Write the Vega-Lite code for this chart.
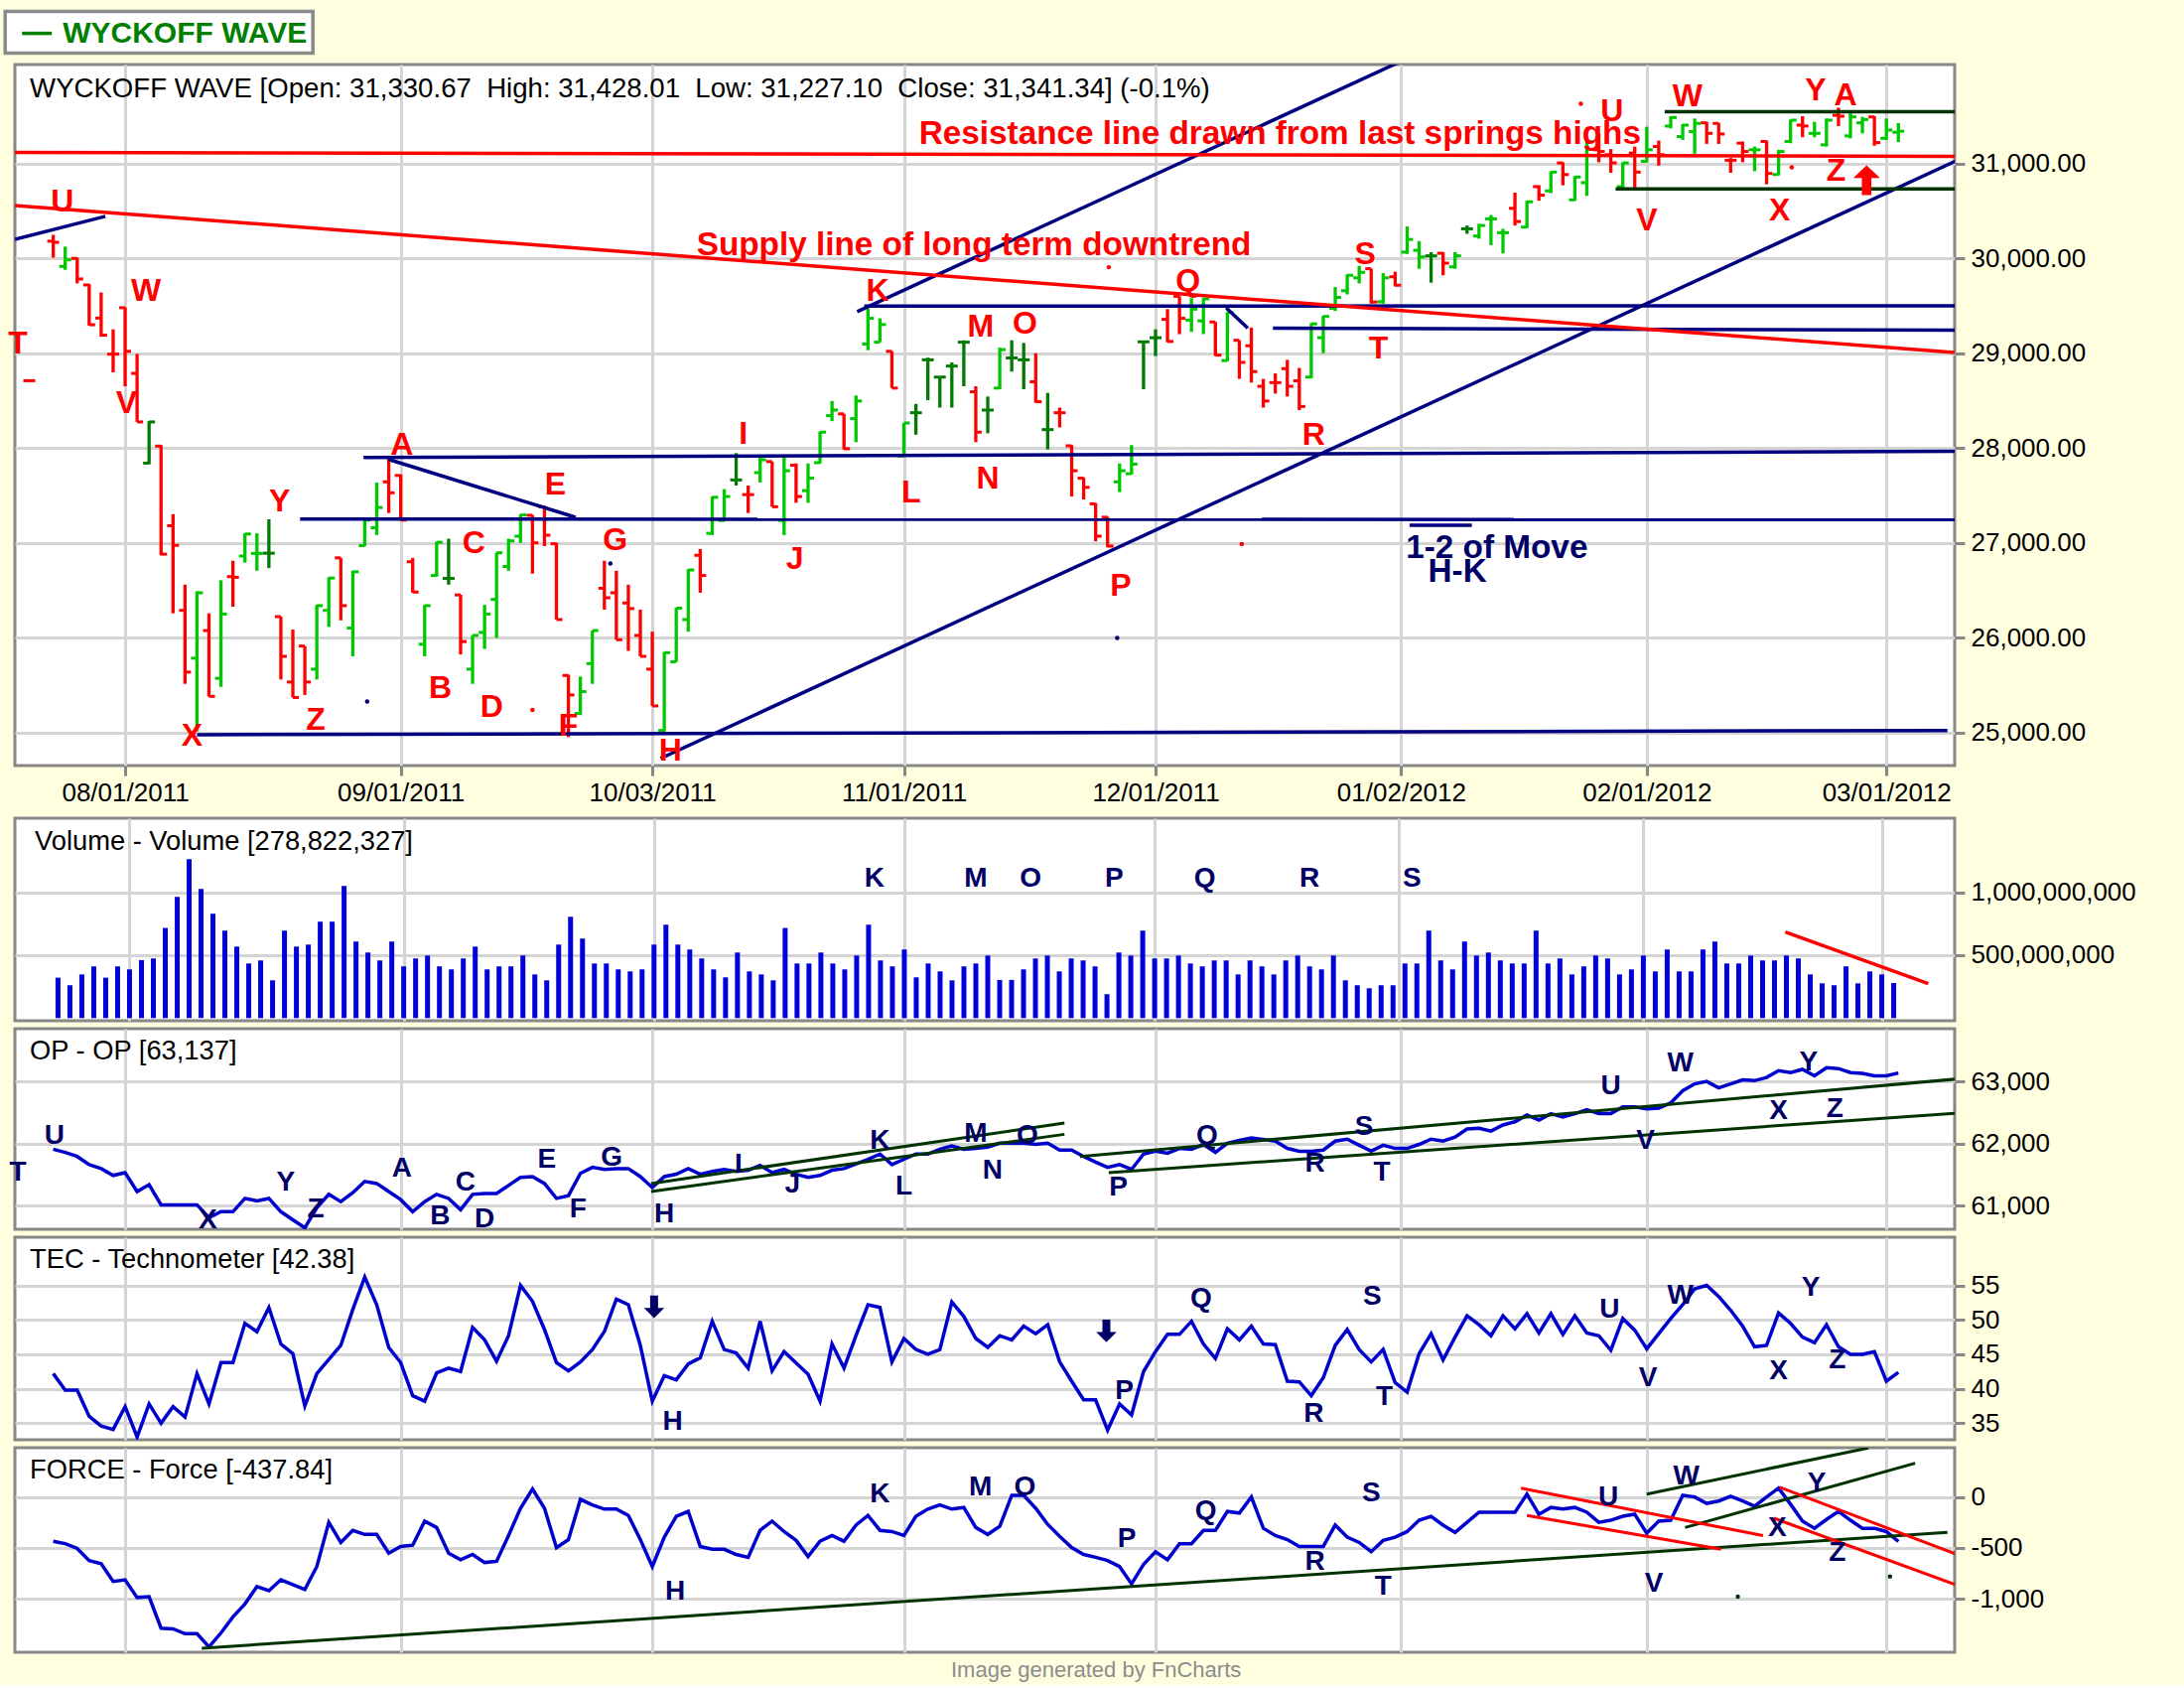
{
"$schema": "https://vega.github.io/schema/vega-lite/v6.json",
"background": "#ffffe0",
"padding": {"left": 3, "top": 9, "right": 50, "bottom": 4},
"config": {
  "font": "Liberation Sans",
  "view": {"stroke": "#878787", "strokeWidth": 3, "fill": "#ffffff"},
  "axis": {"domain": false, "gridColor": "#d4d4d4", "gridWidth": 3, "tickColor": "#878787", "tickWidth": 3, "tickSize": 10, "labelFontSize": 26, "labelColor": "#000000", "labelFont": "Liberation Sans", "labelFlush": false, "labelOverlap": false}
},
"title": {"text": "Image generated by FnCharts", "orient": "bottom", "anchor": "middle", "fontSize": 22, "fontWeight": "normal", "color": "#8c8c8c", "offset": 6, "dx": 26},
"datasets": {
"ohlc": [
{"i":-8,"o":28710,"h":28725,"l":28695,"c":28710,"d":"d"},
{"i":-6,"o":30182,"h":30248,"l":30008,"c":30170,"d":"d","v":321000000},
{"i":-5,"o":29915,"h":30124,"l":29880,"c":29985,"d":"u","v":261000000},
{"i":-4,"o":30000,"h":30008,"l":29736,"c":29783,"d":"d","v":347000000},
{"i":-3,"o":29720,"h":29729,"l":29291,"c":29300,"d":"d","v":411000000},
{"i":-2,"o":29370,"h":29640,"l":29174,"c":29190,"d":"d","v":321000000},
{"i":-1,"o":28990,"h":29252,"l":28798,"c":28990,"d":"d","v":411000000},
{"i":0,"o":29480,"h":29484,"l":28651,"c":29020,"d":"d","v":387000000},
{"i":1,"o":28787,"h":28992,"l":28275,"c":28275,"d":"d","v":461000000},
{"i":2,"o":27840,"h":28283,"l":27829,"c":28275,"d":"n","v":474000000},
{"i":3,"o":28020,"h":28031,"l":26868,"c":26880,"d":"d","v":716000000},
{"i":4,"o":27180,"h":27302,"l":26256,"c":26973,"d":"d","v":963000000},
{"i":5,"o":26287,"h":26558,"l":25512,"c":25636,"d":"d","v":1263000000},
{"i":6,"o":25783,"h":26488,"l":25008,"c":26473,"d":"u","v":1026000000},
{"i":7,"o":26074,"h":26256,"l":25376,"c":25380,"d":"d","v":829000000},
{"i":8,"o":25570,"h":26605,"l":25480,"c":26248,"d":"u","v":695000000},
{"i":9,"o":26643,"h":26810,"l":26326,"c":26636,"d":"d","v":568000000},
{"i":10,"o":26860,"h":27100,"l":26790,"c":27093,"d":"u","v":434000000},
{"i":11,"o":26888,"h":27100,"l":26705,"c":26888,"d":"u","v":458000000},
{"i":12,"o":26890,"h":27248,"l":26733,"c":26890,"d":"n","v":300000000},
{"i":13,"o":26221,"h":26221,"l":25558,"c":25802,"d":"d","v":695000000},
{"i":14,"o":25531,"h":26085,"l":25368,"c":25368,"d":"d","v":568000000},
{"i":15,"o":25911,"h":25911,"l":25395,"c":25531,"d":"d","v":584000000},
{"i":16,"o":25667,"h":26345,"l":25558,"c":26337,"d":"u","v":766000000},
{"i":17,"o":26287,"h":26636,"l":26112,"c":26628,"d":"u","v":766000000},
{"i":18,"o":26841,"h":26841,"l":26182,"c":26337,"d":"d","v":1050000000},
{"i":19,"o":26101,"h":26705,"l":25802,"c":26694,"d":"u","v":608000000},
{"i":20,"o":26970,"h":27248,"l":26965,"c":27240,"d":"u","v":521000000},
{"i":21,"o":27159,"h":27636,"l":27081,"c":27372,"d":"u","v":458000000},
{"i":22,"o":27643,"h":27884,"l":27314,"c":27527,"d":"d","v":608000000},
{"i":23,"o":27710,"h":27721,"l":27236,"c":27240,"d":"d","v":411000000},
{"i":24,"o":26800,"h":26841,"l":26473,"c":26480,"d":"d","v":474000000},
{"i":25,"o":25930,"h":26345,"l":25802,"c":26337,"d":"u","v":497000000},
{"i":26,"o":26655,"h":27012,"l":26643,"c":27005,"d":"u","v":411000000},
{"i":27,"o":26624,"h":27043,"l":26558,"c":26624,"d":"n","v":387000000},
{"i":28,"o":26450,"h":26453,"l":25822,"c":25958,"d":"d","v":474000000},
{"i":29,"o":25667,"h":26027,"l":25512,"c":26023,"d":"u","v":568000000},
{"i":30,"o":26054,"h":26345,"l":25880,"c":26248,"d":"u","v":387000000},
{"i":31,"o":26403,"h":26895,"l":25996,"c":26895,"d":"u","v":411000000},
{"i":32,"o":26750,"h":27043,"l":26705,"c":27020,"d":"u","v":411000000},
{"i":33,"o":27070,"h":27302,"l":27000,"c":27294,"d":"u","v":497000000},
{"i":34,"o":27290,"h":27294,"l":26674,"c":27000,"d":"d","v":347000000},
{"i":35,"o":27380,"h":27390,"l":26965,"c":27080,"d":"d","v":300000000},
{"i":36,"o":26990,"h":27000,"l":26190,"c":26190,"d":"d","v":584000000},
{"i":37,"o":25600,"h":25609,"l":24950,"c":25395,"d":"d","v":805000000},
{"i":38,"o":25200,"h":25589,"l":25182,"c":25430,"d":"u","v":632000000},
{"i":39,"o":25725,"h":26074,"l":25512,"c":26074,"d":"u","v":434000000},
{"i":40,"o":26520,"h":26810,"l":26295,"c":26420,"d":"d","v":434000000},
{"i":41,"o":26473,"h":26705,"l":25977,"c":25977,"d":"d","v":387000000},
{"i":42,"o":26365,"h":26558,"l":25860,"c":26306,"d":"d","v":371000000},
{"i":43,"o":26023,"h":26295,"l":25802,"c":25802,"d":"d","v":387000000},
{"i":44,"o":25667,"h":26062,"l":25279,"c":25279,"d":"d","v":584000000},
{"i":45,"o":25020,"h":25849,"l":25008,"c":25841,"d":"u","v":742000000},
{"i":46,"o":25744,"h":26318,"l":25744,"c":26310,"d":"u","v":584000000},
{"i":47,"o":26190,"h":26721,"l":26062,"c":26713,"d":"u","v":545000000},
{"i":48,"o":26868,"h":26934,"l":26473,"c":26655,"d":"d","v":474000000},
{"i":49,"o":27100,"h":27488,"l":27081,"c":27480,"d":"u","v":387000000},
{"i":50,"o":27236,"h":27566,"l":27225,"c":27488,"d":"u","v":324000000},
{"i":51,"o":27663,"h":27946,"l":27604,"c":27663,"d":"n","v":521000000},
{"i":52,"o":27508,"h":27604,"l":27314,"c":27508,"d":"d","v":371000000},
{"i":53,"o":27740,"h":27907,"l":27636,"c":27876,"d":"u","v":347000000},
{"i":54,"o":27857,"h":27857,"l":27380,"c":27380,"d":"d","v":300000000},
{"i":55,"o":27236,"h":27907,"l":27081,"c":27760,"d":"u","v":716000000},
{"i":56,"o":27818,"h":27837,"l":27422,"c":27488,"d":"d","v":434000000},
{"i":57,"o":27550,"h":27837,"l":27422,"c":27682,"d":"u","v":434000000},
{"i":58,"o":27845,"h":28174,"l":27837,"c":28167,"d":"u","v":521000000},
{"i":59,"o":28341,"h":28496,"l":28283,"c":28400,"d":"u","v":434000000},
{"i":60,"o":28360,"h":28360,"l":27984,"c":27992,"d":"d","v":387000000},
{"i":61,"o":28310,"h":28554,"l":28062,"c":28496,"d":"u","v":497000000},
{"i":62,"o":29097,"h":29473,"l":29031,"c":29368,"d":"u","v":742000000},
{"i":63,"o":29116,"h":29368,"l":29116,"c":29302,"d":"u","v":458000000},
{"i":64,"o":29020,"h":29020,"l":28632,"c":28632,"d":"d","v":411000000},
{"i":65,"o":27915,"h":28264,"l":27907,"c":28264,"d":"u","v":545000000},
{"i":66,"o":28372,"h":28465,"l":28140,"c":28372,"d":"n","v":324000000},
{"i":67,"o":28930,"h":28953,"l":28504,"c":28930,"d":"n","v":434000000},
{"i":68,"o":28748,"h":28748,"l":28426,"c":28748,"d":"n","v":371000000},
{"i":69,"o":28864,"h":28903,"l":28426,"c":28864,"d":"n","v":300000000},
{"i":70,"o":29116,"h":29136,"l":28651,"c":29116,"d":"n","v":411000000},
{"i":71,"o":28593,"h":28651,"l":28062,"c":28167,"d":"d","v":434000000},
{"i":72,"o":28400,"h":28543,"l":28155,"c":28400,"d":"n","v":497000000},
{"i":73,"o":28632,"h":29058,"l":28620,"c":29038,"d":"u","v":303000000},
{"i":74,"o":28950,"h":29136,"l":28806,"c":28950,"d":"n","v":303000000},
{"i":75,"o":28930,"h":29108,"l":28620,"c":28930,"d":"n","v":387000000},
{"i":76,"o":28698,"h":29000,"l":28477,"c":28488,"d":"d","v":474000000},
{"i":77,"o":28194,"h":28581,"l":27984,"c":28194,"d":"n","v":497000000},
{"i":78,"o":28372,"h":28426,"l":28217,"c":28372,"d":"d","v":371000000},
{"i":79,"o":28023,"h":28031,"l":27488,"c":27760,"d":"d","v":474000000},
{"i":80,"o":27682,"h":27690,"l":27457,"c":27585,"d":"d","v":458000000},
{"i":81,"o":27411,"h":27419,"l":27015,"c":27070,"d":"d","v":411000000},
{"i":82,"o":27270,"h":27275,"l":26953,"c":26965,"d":"d","v":190000000},
{"i":83,"o":27643,"h":27837,"l":27535,"c":27760,"d":"u","v":521000000},
{"i":84,"o":27729,"h":28031,"l":27721,"c":27830,"d":"u","v":497000000},
{"i":85,"o":29120,"h":29128,"l":28620,"c":29120,"d":"n","v":695000000},
{"i":86,"o":29163,"h":29252,"l":28969,"c":29163,"d":"n","v":474000000},
{"i":87,"o":29357,"h":29465,"l":29116,"c":29124,"d":"d","v":474000000},
{"i":88,"o":29600,"h":29601,"l":29201,"c":29368,"d":"d","v":497000000},
{"i":89,"o":29349,"h":29581,"l":29225,"c":29465,"d":"u","v":434000000},
{"i":90,"o":29341,"h":29581,"l":29201,"c":29573,"d":"u","v":411000000},
{"i":91,"o":29329,"h":29329,"l":28969,"c":28980,"d":"d","v":458000000},
{"i":92,"o":28922,"h":29434,"l":28915,"c":29430,"d":"u","v":458000000},
{"i":93,"o":29136,"h":29136,"l":28729,"c":28903,"d":"d","v":347000000},
{"i":94,"o":29078,"h":29271,"l":28690,"c":28806,"d":"d","v":458000000},
{"i":95,"o":28651,"h":28729,"l":28426,"c":28496,"d":"d","v":411000000},
{"i":96,"o":28690,"h":28787,"l":28574,"c":28690,"d":"d","v":347000000},
{"i":97,"o":28837,"h":28930,"l":28543,"c":28651,"d":"d","v":458000000},
{"i":98,"o":28709,"h":28845,"l":28400,"c":28438,"d":"d","v":497000000},
{"i":99,"o":28748,"h":29318,"l":28736,"c":29310,"d":"u","v":411000000},
{"i":100,"o":29163,"h":29395,"l":29000,"c":29388,"d":"u","v":387000000},
{"i":101,"o":29473,"h":29698,"l":29446,"c":29589,"d":"u","v":497000000},
{"i":102,"o":29659,"h":29833,"l":29620,"c":29822,"d":"u","v":300000000},
{"i":103,"o":29795,"h":29922,"l":29736,"c":29853,"d":"u","v":261000000},
{"i":104,"o":29891,"h":29891,"l":29523,"c":29540,"d":"d","v":237000000},
{"i":105,"o":29543,"h":29845,"l":29523,"c":29795,"d":"u","v":261000000},
{"i":106,"o":29806,"h":29860,"l":29705,"c":29717,"d":"d","v":261000000},
{"i":107,"o":30066,"h":30337,"l":30047,"c":30200,"d":"u","v":434000000},
{"i":108,"o":30085,"h":30182,"l":29891,"c":30016,"d":"u","v":434000000},
{"i":109,"o":30027,"h":30066,"l":29744,"c":30027,"d":"n","v":695000000},
{"i":110,"o":30054,"h":30066,"l":29822,"c":29950,"d":"d","v":458000000},
{"i":111,"o":29911,"h":30066,"l":29891,"c":30027,"d":"u","v":387000000},
{"i":112,"o":30312,"h":30347,"l":30260,"c":30312,"d":"n","v":608000000},
{"i":113,"o":30236,"h":30365,"l":30208,"c":30347,"d":"u","v":497000000},
{"i":114,"o":30417,"h":30458,"l":30139,"c":30417,"d":"u","v":521000000},
{"i":115,"o":30271,"h":30312,"l":30052,"c":30271,"d":"u","v":458000000},
{"i":116,"o":30528,"h":30694,"l":30347,"c":30389,"d":"d","v":434000000},
{"i":117,"o":30330,"h":30608,"l":30319,"c":30597,"d":"u","v":434000000},
{"i":118,"o":30757,"h":30771,"l":30608,"c":30667,"d":"d","v":695000000},
{"i":119,"o":30712,"h":30920,"l":30688,"c":30910,"d":"u","v":434000000},
{"i":120,"o":31007,"h":31014,"l":30771,"c":30885,"d":"d","v":474000000},
{"i":121,"o":30618,"h":30868,"l":30608,"c":30858,"d":"u","v":347000000},
{"i":122,"o":30799,"h":31243,"l":30660,"c":31233,"d":"u","v":411000000},
{"i":123,"o":31146,"h":31319,"l":31014,"c":31128,"d":"d","v":497000000},
{"i":124,"o":31094,"h":31153,"l":30903,"c":31007,"d":"d","v":474000000},
{"i":125,"o":30757,"h":31014,"l":30736,"c":31007,"d":"u","v":347000000},
{"i":126,"o":31111,"h":31180,"l":30729,"c":30910,"d":"d","v":387000000},
{"i":127,"o":31024,"h":31389,"l":31014,"c":31146,"d":"u","v":497000000},
{"i":128,"o":31180,"h":31243,"l":30979,"c":31094,"d":"d","v":371000000},
{"i":129,"o":31396,"h":31500,"l":31372,"c":31486,"d":"u","v":545000000},
{"i":130,"o":31285,"h":31417,"l":31250,"c":31406,"d":"u","v":371000000},
{"i":131,"o":31337,"h":31476,"l":31104,"c":31424,"d":"u","v":371000000},
{"i":132,"o":31430,"h":31441,"l":31208,"c":31319,"d":"d","v":545000000},
{"i":133,"o":31424,"h":31430,"l":31208,"c":31312,"d":"d","v":608000000},
{"i":134,"o":31035,"h":31059,"l":30903,"c":31035,"d":"d","v":434000000},
{"i":135,"o":31215,"h":31233,"l":31014,"c":31128,"d":"d","v":434000000},
{"i":136,"o":31146,"h":31180,"l":30920,"c":31146,"d":"u","v":497000000},
{"i":137,"o":31233,"h":31243,"l":30781,"c":30896,"d":"d","v":458000000},
{"i":138,"o":30885,"h":31146,"l":30875,"c":31128,"d":"u","v":458000000},
{"i":139,"o":31233,"h":31465,"l":31215,"c":31458,"d":"u","v":497000000},
{"i":140,"o":31406,"h":31500,"l":31278,"c":31396,"d":"d","v":474000000},
{"i":141,"o":31319,"h":31441,"l":31278,"c":31319,"d":"u","v":347000000},
{"i":142,"o":31198,"h":31476,"l":31180,"c":31458,"d":"u","v":276000000},
{"i":143,"o":31510,"h":31590,"l":31396,"c":31500,"d":"d","v":261000000},
{"i":144,"o":31292,"h":31556,"l":31267,"c":31493,"d":"u","v":411000000},
{"i":145,"o":31430,"h":31493,"l":31319,"c":31465,"d":"u","v":276000000},
{"i":146,"o":31493,"h":31500,"l":31188,"c":31222,"d":"d","v":371000000},
{"i":147,"o":31267,"h":31476,"l":31250,"c":31354,"d":"u","v":347000000},
{"i":148,"o":31330.67,"h":31428.01,"l":31227.10,"c":31341.34,"d":"u","v":278822327}
],
"pDotsNavy": [
{"i":20.2,"v":25326},{"i":40.5,"v":26781},{"i":82.8,"v":25995}
],
"pDotsRed": [
{"i":34.0,"v":25236},{"i":82.1,"v":29907},{"i":93.2,"v":26987},{"i":121.5,"v":31631},{"i":139.1,"v":30962}
],
"pBlue": [
{"s":"u","i":-9.2,"v":30200},{"s":"u","i":-1.65,"v":30444},
{"s":"cu","i":61.1,"v":29438},{"s":"cu","i":106.5,"v":32080},
{"s":"cl","i":44.7,"v":24726},{"s":"cl","i":153.5,"v":31069},
{"s":"hx","i":6.0,"v":24975},{"s":"hx","i":152.1,"v":25020},
{"s":"hy","i":14.6,"v":27250},{"s":"hy","i":152.7,"v":27244},
{"s":"ha","i":19.9,"v":27900},{"s":"ha","i":152.7,"v":27966},
{"s":"ae","i":21.95,"v":27881},{"s":"ae","i":37.6,"v":27269},
{"s":"hk","i":61.7,"v":29497},{"s":"hk","i":152.7,"v":29500},
{"s":"qd","i":91.9,"v":29478},{"s":"qd","i":93.7,"v":29263},
{"s":"ht","i":95.8,"v":29263},{"s":"ht","i":152.7,"v":29243},
{"s":"ov","i":107.2,"v":27185},{"s":"ov","i":112.4,"v":27185}
],
"pRed": [
{"s":"res","i":-9.2,"v":31119},{"s":"res","i":152.7,"v":31077},
{"s":"sup","i":-9.2,"v":30558},{"s":"sup","i":152.7,"v":29007}
],
"pGreen": [
{"s":"gu","i":128.5,"v":31547},{"s":"gu","i":152.7,"v":31547},
{"s":"gl","i":124.4,"v":30733},{"s":"gl","i":152.7,"v":30733}
],
"pLetters": [
{"t":"T","i":-8.95,"v":29103},{"t":"U","i":-5.23,"v":30603},{"t":"W","i":1.74,"v":29662},{"t":"V","i":0.12,"v":28471},
{"t":"X","i":5.58,"v":24963},{"t":"Y","i":12.9,"v":27441},{"t":"Z","i":15.9,"v":25132},{"t":"A","i":23.1,"v":28029},
{"t":"B","i":26.3,"v":25471},{"t":"C","i":29.1,"v":27000},{"t":"D","i":30.6,"v":25265},{"t":"E","i":35.9,"v":27618},
{"t":"F","i":37.0,"v":25074},{"t":"G","i":40.9,"v":27029},{"t":"H","i":45.5,"v":24809},{"t":"I","i":51.6,"v":28147},
{"t":"J","i":55.9,"v":26824},{"t":"K","i":62.8,"v":29662},{"t":"L","i":65.6,"v":27529},{"t":"M","i":71.4,"v":29279},
{"t":"N","i":72.0,"v":27676},{"t":"O","i":75.1,"v":29309},{"t":"P","i":83.1,"v":26544},{"t":"Q","i":88.7,"v":29760},
{"t":"R","i":99.2,"v":28140},{"t":"S","i":103.5,"v":30040},{"t":"T","i":104.6,"v":29051},{"t":"U","i":124.1,"v":31555},
{"t":"V","i":127.0,"v":30403},{"t":"W","i":130.4,"v":31712},{"t":"X","i":138.1,"v":30508},{"t":"Y","i":141.1,"v":31770},
{"t":"Z","i":142.8,"v":30920},{"t":"A","i":143.6,"v":31723}
],
"pNotesRed": [
{"t":"Resistance line drawn from last springs highs","i":66.26,"v":31317},
{"t":"Supply line of long term downtrend","i":47.7,"v":30140}
],
"pNotesBlue": [
{"t":"1-2 of Move","i":106.9,"v":26948}
],
"pNotesBlueC": [
{"t":"H-K","i":111.2,"v":26696}
],
"vLetters": [
{"t":"K","i":62.5,"v":1110000000},{"t":"M","i":71.0,"v":1110000000},{"t":"O","i":75.6,"v":1110000000},
{"t":"P","i":82.6,"v":1110000000},{"t":"Q","i":90.2,"v":1110000000},{"t":"R","i":99.0,"v":1110000000},{"t":"S","i":107.6,"v":1110000000}
],
"vRed": [{"s":"a","i":138.9,"v":684000000},{"s":"a","i":150.9,"v":274000000}],
"op": [
{"i":-6,"v":61909},{"i":-5,"v":61857},{"i":-4,"v":61792},{"i":-3,"v":61662},{"i":-2,"v":61597},{"i":-1,"v":61487},
{"i":0,"v":61532},{"i":1,"v":61227},{"i":2,"v":61338},{"i":3,"v":61013},{"i":4,"v":61013},{"i":6,"v":61013},
{"i":7,"v":60805},{"i":8,"v":60903},{"i":9,"v":60903},{"i":10,"v":61117},{"i":11,"v":61078},{"i":12,"v":61117},
{"i":13,"v":60903},{"i":14,"v":60773},{"i":15,"v":60643},{"i":16,"v":60968},{"i":17,"v":61182},{"i":18,"v":61065},
{"i":19,"v":61208},{"i":20,"v":61390},{"i":21,"v":61357},{"i":22,"v":61227},{"i":23,"v":61097},{"i":24,"v":60903},
{"i":25,"v":61065},{"i":26,"v":61182},{"i":27,"v":61117},{"i":28,"v":60935},{"i":29,"v":61182},{"i":30,"v":61195},
{"i":31,"v":61195},{"i":32,"v":61325},{"i":33,"v":61455},{"i":34,"v":61468},{"i":35,"v":61357},{"i":36,"v":61117},
{"i":37,"v":61162},{"i":38,"v":61519},{"i":39,"v":61617},{"i":40,"v":61584},{"i":41,"v":61597},{"i":42,"v":61597},
{"i":43,"v":61468},{"i":44,"v":61292},{"i":45,"v":61468},{"i":46,"v":61506},{"i":47,"v":61597},{"i":48,"v":61506},
{"i":49,"v":61552},{"i":50,"v":61584},{"i":51,"v":61552},{"i":52,"v":61571},{"i":53,"v":61649},{"i":54,"v":61532},
{"i":55,"v":61584},{"i":56,"v":61506},{"i":57,"v":61455},{"i":58,"v":61487},{"i":59,"v":61571},{"i":60,"v":61597},
{"i":62,"v":61747},{"i":63,"v":61831},{"i":64,"v":61662},{"i":65,"v":61747},{"i":66,"v":61831},{"i":67,"v":61831},
{"i":68,"v":61909},{"i":69,"v":61961},{"i":70,"v":61909},{"i":71,"v":61922},{"i":72,"v":61942},{"i":73,"v":62006},
{"i":74,"v":62006},{"i":75,"v":62006},{"i":76,"v":61987},{"i":77,"v":62006},{"i":78,"v":61896},{"i":79,"v":61896},
{"i":80,"v":61792},{"i":81,"v":61701},{"i":82,"v":61617},{"i":83,"v":61662},{"i":84,"v":61584},{"i":85,"v":61831},
{"i":86,"v":61877},{"i":87,"v":61844},{"i":88,"v":61922},{"i":89,"v":61909},{"i":90,"v":61987},{"i":91,"v":61857},
{"i":92,"v":62006},{"i":93,"v":62052},{"i":94,"v":62091},{"i":96,"v":62039},{"i":97,"v":61922},{"i":98,"v":61877},
{"i":99,"v":61877},{"i":100,"v":61896},{"i":101,"v":62039},{"i":102,"v":62071},{"i":103,"v":61974},{"i":104,"v":61877},
{"i":105,"v":61974},{"i":106,"v":61922},{"i":107,"v":61922},{"i":108,"v":61987},{"i":109,"v":62071},{"i":110,"v":62039},
{"i":111,"v":62104},{"i":112,"v":62234},{"i":113,"v":62247},{"i":114,"v":62201},{"i":115,"v":62299},{"i":116,"v":62351},
{"i":117,"v":62461},{"i":118,"v":62377},{"i":119,"v":62481},{"i":120,"v":62429},{"i":121,"v":62481},{"i":122,"v":62545},
{"i":123,"v":62481},{"i":124,"v":62481},{"i":125,"v":62591},{"i":126,"v":62591},{"i":127,"v":62558},{"i":128,"v":62571},
{"i":129,"v":62656},{"i":130,"v":62851},{"i":131,"v":62961},{"i":132,"v":63000},{"i":133,"v":62896},{"i":134,"v":62961},
{"i":135,"v":63026},{"i":136,"v":63013},{"i":137,"v":63065},{"i":138,"v":63175},{"i":139,"v":63143},{"i":140,"v":63195},
{"i":141,"v":63091},{"i":142,"v":63221},{"i":143,"v":63208},{"i":144,"v":63143},{"i":145,"v":63130},{"i":146,"v":63091},
{"i":147,"v":63091},{"i":148,"v":63137}
],
"opLines": [
{"s":"a","i":43.9,"v":61357},{"s":"a","i":78.4,"v":62331},
{"s":"b","i":43.9,"v":61227},{"s":"b","i":78.4,"v":62149},
{"s":"c","i":79.7,"v":61792},{"s":"c","i":153.2,"v":63045},
{"s":"d","i":82.1,"v":61532},{"s":"d","i":154,"v":62506}
],
"opLetters": [
{"t":"T","i":-8.95,"v":61532},{"t":"U","i":-5.9,"v":62117},{"t":"X","i":6.9,"v":60756},{"t":"Y","i":13.4,"v":61378},
{"t":"Z","i":15.9,"v":60933},{"t":"A","i":23.1,"v":61600},{"t":"B","i":26.3,"v":60822},{"t":"C","i":28.4,"v":61378},
{"t":"D","i":30.0,"v":60778},{"t":"E","i":35.2,"v":61733},{"t":"F","i":37.8,"v":60933},{"t":"G","i":40.6,"v":61778},
{"t":"H","i":45.0,"v":60857},{"t":"I","i":51.2,"v":61667},{"t":"J","i":55.7,"v":61333},{"t":"K","i":63.0,"v":62044},
{"t":"L","i":65.0,"v":61311},{"t":"M","i":71.0,"v":62156},{"t":"N","i":72.4,"v":61571},{"t":"O","i":75.3,"v":62117},
{"t":"P","i":82.9,"v":61292},{"t":"Q","i":90.3,"v":62117},{"t":"R","i":99.3,"v":61682},{"t":"S","i":103.4,"v":62266},
{"t":"T","i":104.9,"v":61532},{"t":"U","i":124.0,"v":62916},{"t":"V","i":126.9,"v":62039},{"t":"W","i":129.8,"v":63286},
{"t":"X","i":138.0,"v":62526},{"t":"Y","i":140.5,"v":63305},{"t":"Z","i":142.7,"v":62558}
],
"tec": [
{"i":-6,"v":42.2},{"i":-5,"v":39.8},{"i":-4,"v":39.8},{"i":-3,"v":36.0},{"i":-2,"v":34.6},{"i":-1,"v":34.1},
{"i":0,"v":37.4},{"i":1,"v":33.0},{"i":2,"v":37.8},{"i":3,"v":35.0},{"i":4,"v":37.4},{"i":5,"v":35.9},
{"i":6,"v":42.2},{"i":7,"v":37.8},{"i":8,"v":43.8},{"i":9,"v":43.8},{"i":10,"v":49.5},{"i":11,"v":48.3},
{"i":12,"v":51.8},{"i":13,"v":46.5},{"i":14,"v":45.1},{"i":15,"v":37.5},{"i":16,"v":42.2},{"i":18,"v":46.3},
{"i":19,"v":51.5},{"i":20,"v":56.2},{"i":21,"v":52.2},{"i":22,"v":46.0},{"i":23,"v":43.8},{"i":24,"v":39.0},
{"i":25,"v":38.2},{"i":26,"v":42.3},{"i":27,"v":43.0},{"i":28,"v":42.5},{"i":29,"v":48.9},{"i":30,"v":47.1},
{"i":31,"v":44.0},{"i":32,"v":47.7},{"i":33,"v":55.0},{"i":34,"v":52.7},{"i":35,"v":48.6},{"i":36,"v":43.8},
{"i":37,"v":42.6},{"i":38,"v":43.9},{"i":39,"v":45.7},{"i":40,"v":48.3},{"i":41,"v":53.0},{"i":42,"v":52.2},
{"i":43,"v":46.3},{"i":44,"v":38.2},{"i":45,"v":41.9},{"i":46,"v":41.3},{"i":47,"v":43.6},{"i":48,"v":44.5},
{"i":49,"v":49.8},{"i":50,"v":45.7},{"i":51,"v":45.2},{"i":52,"v":43.0},{"i":53,"v":49.8},{"i":54,"v":42.6},
{"i":55,"v":45.4},{"i":57,"v":42.1},{"i":58,"v":38.2},{"i":59,"v":46.5},{"i":60,"v":43.0},{"i":61,"v":47.7},
{"i":62,"v":52.2},{"i":63,"v":51.8},{"i":64,"v":43.9},{"i":65,"v":47.3},{"i":66,"v":45.7},{"i":67,"v":45.0},
{"i":68,"v":45.7},{"i":69,"v":52.6},{"i":70,"v":50.5},{"i":71,"v":47.3},{"i":72,"v":46.0},{"i":73,"v":47.7},
{"i":74,"v":47.1},{"i":75,"v":49.1},{"i":76,"v":48.0},{"i":77,"v":49.3},{"i":78,"v":43.9},{"i":79,"v":41.1},
{"i":80,"v":38.4},{"i":81,"v":38.4},{"i":82,"v":34.0},{"i":83,"v":37.8},{"i":84,"v":36.2},{"i":85,"v":42.5},
{"i":86,"v":45.4},{"i":87,"v":47.9},{"i":88,"v":47.9},{"i":89,"v":49.8},{"i":90,"v":46.5},{"i":91,"v":44.4},
{"i":92,"v":48.7},{"i":93,"v":47.1},{"i":94,"v":49.1},{"i":95,"v":46.5},{"i":96,"v":46.4},{"i":97,"v":41.1},
{"i":98,"v":41.0},{"i":99,"v":39.0},{"i":100,"v":41.6},{"i":101,"v":46.3},{"i":102,"v":48.6},{"i":103,"v":45.7},
{"i":104,"v":43.9},{"i":105,"v":45.7},{"i":106,"v":40.9},{"i":107,"v":39.5},{"i":108,"v":45.1},{"i":109,"v":48.0},
{"i":110,"v":44.2},{"i":111,"v":47.5},{"i":112,"v":50.6},{"i":113,"v":49.3},{"i":114,"v":47.7},{"i":115,"v":50.6},
{"i":116,"v":48.7},{"i":117,"v":50.9},{"i":118,"v":48.1},{"i":119,"v":50.9},{"i":120,"v":47.9},{"i":121,"v":50.6},
{"i":122,"v":48.1},{"i":123,"v":47.7},{"i":124,"v":45.6},{"i":125,"v":50.2},{"i":126,"v":48.5},{"i":127,"v":45.8},
{"i":128,"v":48.0},{"i":129,"v":50.2},{"i":130,"v":52.2},{"i":131,"v":54.5},{"i":132,"v":55.0},{"i":133,"v":53.4},
{"i":134,"v":51.4},{"i":135,"v":49.1},{"i":136,"v":46.1},{"i":137,"v":46.3},{"i":138,"v":51.0},{"i":139,"v":49.5},
{"i":140,"v":47.5},{"i":141,"v":46.7},{"i":142,"v":49.3},{"i":143,"v":46.1},{"i":144,"v":45.0},{"i":145,"v":45.0},
{"i":146,"v":45.4},{"i":147,"v":41.1},{"i":148,"v":42.38}
],
"tecLetters": [
{"t":"H","i":45.7,"v":35.2},{"t":"P","i":83.4,"v":39.6},{"t":"Q","i":89.8,"v":53.1},{"t":"R","i":99.2,"v":36.3},
{"t":"S","i":104.1,"v":53.4},{"t":"T","i":105.1,"v":38.8},{"t":"U","i":123.9,"v":51.5},{"t":"V","i":127.1,"v":41.5},
{"t":"W","i":129.8,"v":53.5},{"t":"X","i":138.0,"v":42.6},{"t":"Y","i":140.7,"v":54.7},{"t":"Z","i":142.9,"v":44.2}
],
"tecArrows": [{"i":44.15,"v":51.9},{"i":81.9,"v":48.4}],
"force": [
{"i":-6,"v":-435},{"i":-5,"v":-459},{"i":-4,"v":-506},{"i":-3,"v":-625},{"i":-2,"v":-656},{"i":-1,"v":-830},
{"i":0,"v":-814},{"i":1,"v":-988},{"i":2,"v":-980},{"i":3,"v":-1289},{"i":4,"v":-1296},{"i":5,"v":-1344},
{"i":6,"v":-1344},{"i":7,"v":-1474},{"i":8,"v":-1336},{"i":9,"v":-1178},{"i":10,"v":-1051},{"i":11,"v":-881},
{"i":12,"v":-921},{"i":13,"v":-814},{"i":14,"v":-862},{"i":15,"v":-909},{"i":16,"v":-684},{"i":17,"v":-249},
{"i":18,"v":-447},{"i":19,"v":-328},{"i":20,"v":-368},{"i":21,"v":-368},{"i":22,"v":-553},{"i":23,"v":-486},
{"i":24,"v":-474},{"i":25,"v":-237},{"i":26,"v":-300},{"i":27,"v":-553},{"i":28,"v":-617},{"i":29,"v":-565},
{"i":30,"v":-644},{"i":31,"v":-632},{"i":32,"v":-379},{"i":33,"v":-111},{"i":34,"v":79},{"i":35,"v":-111},
{"i":36,"v":-498},{"i":37,"v":-419},{"i":38,"v":-24},{"i":39,"v":-79},{"i":40,"v":-119},{"i":41,"v":-119},
{"i":42,"v":-182},{"i":43,"v":-419},{"i":44,"v":-684},{"i":45,"v":-395},{"i":46,"v":-190},{"i":47,"v":-142},
{"i":48,"v":-486},{"i":49,"v":-514},{"i":50,"v":-514},{"i":51,"v":-565},{"i":52,"v":-593},{"i":53,"v":-328},
{"i":54,"v":-237},{"i":55,"v":-340},{"i":56,"v":-427},{"i":57,"v":-585},{"i":58,"v":-435},{"i":59,"v":-379},
{"i":60,"v":-435},{"i":61,"v":-277},{"i":62,"v":-182},{"i":63,"v":-328},{"i":64,"v":-340},{"i":65,"v":-379},
{"i":66,"v":-190},{"i":67,"v":-119},{"i":68,"v":-79},{"i":69,"v":-119},{"i":70,"v":-103},{"i":71,"v":-300},
{"i":72,"v":-368},{"i":73,"v":-289},{"i":74,"v":16},{"i":75,"v":16},{"i":76,"v":-111},{"i":77,"v":-269},
{"i":78,"v":-387},{"i":79,"v":-498},{"i":80,"v":-565},{"i":81,"v":-593},{"i":82,"v":-625},{"i":83,"v":-684},
{"i":84,"v":-854},{"i":85,"v":-664},{"i":86,"v":-538},{"i":87,"v":-617},{"i":88,"v":-459},{"i":89,"v":-459},
{"i":90,"v":-328},{"i":91,"v":-328},{"i":92,"v":-142},{"i":93,"v":-158},{"i":94,"v":0},{"i":95,"v":-308},
{"i":96,"v":-379},{"i":97,"v":-419},{"i":98,"v":-486},{"i":99,"v":-486},{"i":100,"v":-486},{"i":101,"v":-277},
{"i":102,"v":-395},{"i":103,"v":-447},{"i":104,"v":-538},{"i":105,"v":-427},{"i":106,"v":-395},{"i":107,"v":-340},
{"i":108,"v":-229},{"i":109,"v":-190},{"i":110,"v":-277},{"i":111,"v":-348},{"i":112,"v":-249},{"i":113,"v":-150},
{"i":114,"v":-150},{"i":115,"v":-150},{"i":116,"v":-150},{"i":117,"v":28},{"i":118,"v":-170},{"i":119,"v":-103},
{"i":120,"v":-119},{"i":121,"v":-103},{"i":122,"v":-150},{"i":123,"v":-249},{"i":124,"v":-229},{"i":125,"v":-190},
{"i":126,"v":-170},{"i":127,"v":-356},{"i":128,"v":-237},{"i":129,"v":-229},{"i":130,"v":16},{"i":131,"v":0},
{"i":132,"v":-63},{"i":133,"v":-40},{"i":134,"v":8},{"i":135,"v":-40},{"i":136,"v":-91},{"i":137,"v":0},
{"i":138,"v":87},{"i":139,"v":-71},{"i":140,"v":-237},{"i":141,"v":-308},{"i":142,"v":-221},{"i":143,"v":-142},
{"i":144,"v":-229},{"i":145,"v":-308},{"i":146,"v":-308},{"i":147,"v":-340},{"i":148,"v":-437.84}
],
"fDots": [{"i":134.6,"v":-980},{"i":147.3,"v":-783}],
"fGreen": [
{"s":"a","i":6.4,"v":-1486},{"s":"a","i":152.1,"v":-348},
{"s":"b","i":127,"v":28},{"s":"b","i":145.5,"v":482},
{"s":"c","i":130.2,"v":-300},{"s":"c","i":149.4,"v":332}
],
"fRed": [
{"s":"a","i":116.5,"v":87},{"s":"a","i":136.7,"v":-379},
{"s":"b","i":117,"v":-182},{"s":"b","i":133.2,"v":-514},
{"s":"c","i":138.1,"v":95},{"s":"c","i":152.9,"v":-565},
{"s":"d","i":137.6,"v":-209},{"s":"d","i":153.2,"v":-881}
],
"fLetters": [
{"t":"K","i":63.0,"v":27},{"t":"M","i":71.4,"v":96},{"t":"O","i":75.1,"v":90},{"t":"H","i":45.9,"v":-932},
{"t":"P","i":83.6,"v":-415},{"t":"Q","i":90.2,"v":-145},{"t":"R","i":99.3,"v":-638},{"t":"S","i":104.0,"v":40},
{"t":"T","i":105.0,"v":-885},{"t":"U","i":123.8,"v":0},{"t":"V","i":127.6,"v":-855},{"t":"W","i":130.3,"v":205},
{"t":"X","i":137.9,"v":-305},{"t":"Y","i":141.2,"v":130},{"t":"Z","i":142.9,"v":-546}
]
},
"bounds": "flush",
"spacing": 53,
"vconcat": [
{
  "width": 1954, "height": 706,
  "encoding": {"x": {"field": "i", "type": "quantitative", "title": null, "scale": {"domain": [-9.2, 152.7], "nice": false, "zero": false},
    "axis": {"values": [0, 23, 44, 65, 86, 106.5, 127, 147], "grid": true, "ticks": true, "labelPadding": 4, "title": null,
      "labelExpr": "datum.value == 0 ? '08/01/2011' : datum.value == 23 ? '09/01/2011' : datum.value == 44 ? '10/03/2011' : datum.value == 65 ? '11/01/2011' : datum.value == 86 ? '12/01/2011' : datum.value == 106.5 ? '01/02/2012' : datum.value == 127 ? '02/01/2012' : '03/01/2012'"}}},
  "layer": [
    {"data": {"values": [{"i": -60, "v": 30000}]},
     "mark": {"type": "line", "strokeWidth": 3.5, "clip": true},
     "encoding": {"y": {"field": "v", "type": "quantitative", "title": null, "scale": {"domain": [24650, 32045], "nice": false, "zero": false},
        "axis": {"orient": "right", "values": [25000, 26000, 27000, 28000, 29000, 30000, 31000], "format": ",.2f", "grid": true, "title": null, "labelPadding": 6}},
       "stroke": {"datum": "WYCKOFF WAVE", "scale": {"range": ["#008000"]},
         "legend": {"orient": "none", "legendX": -9.8, "legendY": -53.4, "title": null, "symbolType": "stroke", "symbolStrokeWidth": 3.5, "symbolSize": 900, "symbolOffset": 10,
           "labelFontSize": 30, "labelFontWeight": "bold", "labelColor": "#008000", "labelFont": "Liberation Sans", "labelOffset": 9, "labelLimit": 500, "padding": 5,
           "fillColor": "#ffffff", "strokeColor": "#8a8a8a",
           "encode": {"legend": {"update": {"strokeWidth": {"value": 3.5}}}}}}}},
    {"data": {"name": "pDotsNavy"},
     "mark": {"type": "point", "filled": true, "size": 20, "opacity": 1, "color": "#000066"},
     "encoding": {"y": {"field": "v", "type": "quantitative", "title": null, "scale": {"domain": [24650, 32045], "nice": false, "zero": false}}}},
    {"data": {"name": "pDotsRed"},
     "mark": {"type": "point", "filled": true, "size": 20, "opacity": 1, "color": "#ff0000"},
     "encoding": {"y": {"field": "v", "type": "quantitative", "title": null, "scale": {"domain": [24650, 32045], "nice": false, "zero": false}}}},
    {"data": {"name": "ohlc"},
     "mark": {"type": "rule", "strokeWidth": 3.3},
     "encoding": {"y": {"field": "l", "type": "quantitative", "title": null, "scale": {"domain": [24650, 32045], "nice": false, "zero": false}},
       "y2": {"field": "h"},
       "color": {"field": "d", "type": "nominal", "legend": null, "scale": {"domain": ["u", "n", "d"], "range": ["#00c800", "#007a00", "#ff0000"]}}}},
    {"data": {"name": "ohlc"},
     "mark": {"type": "tick", "orient": "horizontal", "size": 6, "thickness": 3, "xOffset": -3, "opacity": 1},
     "encoding": {"y": {"field": "o", "type": "quantitative", "title": null, "scale": {"domain": [24650, 32045], "nice": false, "zero": false}},
       "color": {"field": "d", "type": "nominal", "legend": null, "scale": {"domain": ["u", "n", "d"], "range": ["#00c800", "#007a00", "#ff0000"]}}}},
    {"data": {"name": "ohlc"},
     "mark": {"type": "tick", "orient": "horizontal", "size": 6, "thickness": 3, "xOffset": 3, "opacity": 1},
     "encoding": {"y": {"field": "c", "type": "quantitative", "title": null, "scale": {"domain": [24650, 32045], "nice": false, "zero": false}},
       "color": {"field": "d", "type": "nominal", "legend": null, "scale": {"domain": ["u", "n", "d"], "range": ["#00c800", "#007a00", "#ff0000"]}}}},
    {"data": {"name": "pBlue"},
     "mark": {"type": "line", "color": "#000080", "strokeWidth": 3.5, "clip": true},
     "encoding": {"y": {"field": "v", "type": "quantitative", "title": null, "scale": {"domain": [24650, 32045], "nice": false, "zero": false}}, "detail": {"field": "s"}}},
    {"data": {"name": "pRed"},
     "mark": {"type": "line", "color": "#ff0000", "strokeWidth": 3.5, "clip": true},
     "encoding": {"y": {"field": "v", "type": "quantitative", "title": null, "scale": {"domain": [24650, 32045], "nice": false, "zero": false}}, "detail": {"field": "s"}}},
    {"data": {"name": "pGreen"},
     "mark": {"type": "line", "color": "#003300", "strokeWidth": 3.5, "clip": true},
     "encoding": {"y": {"field": "v", "type": "quantitative", "title": null, "scale": {"domain": [24650, 32045], "nice": false, "zero": false}}, "detail": {"field": "s"}}},
    {"data": {"name": "pLetters"},
     "mark": {"type": "text", "color": "#ff0000", "fontSize": 32, "fontWeight": "bold", "font": "Liberation Sans", "baseline": "middle", "align": "center"},
     "encoding": {"y": {"field": "v", "type": "quantitative", "title": null, "scale": {"domain": [24650, 32045], "nice": false, "zero": false}}, "text": {"field": "t"}}},
    {"data": {"name": "pNotesRed"},
     "mark": {"type": "text", "color": "#ff0000", "fontSize": 33.3, "fontWeight": "bold", "font": "Liberation Sans", "baseline": "middle", "align": "left"},
     "encoding": {"y": {"field": "v", "type": "quantitative", "title": null, "scale": {"domain": [24650, 32045], "nice": false, "zero": false}}, "text": {"field": "t"}}},
    {"data": {"name": "pNotesBlue"},
     "mark": {"type": "text", "color": "#000066", "fontSize": 33.3, "fontWeight": "bold", "font": "Liberation Sans", "baseline": "middle", "align": "left"},
     "encoding": {"y": {"field": "v", "type": "quantitative", "title": null, "scale": {"domain": [24650, 32045], "nice": false, "zero": false}}, "text": {"field": "t"}}},
    {"data": {"name": "pNotesBlueC"},
     "mark": {"type": "text", "color": "#000066", "fontSize": 33.3, "fontWeight": "bold", "font": "Liberation Sans", "baseline": "middle", "align": "center"},
     "encoding": {"y": {"field": "v", "type": "quantitative", "title": null, "scale": {"domain": [24650, 32045], "nice": false, "zero": false}}, "text": {"field": "t"}}},
    {"data": {"values": [{"i": 145.35, "v": 30824}]},
     "mark": {"type": "point", "shape": "M0,-1L0.9,-0.15L0.32,-0.15L0.32,1L-0.32,1L-0.32,-0.15L-0.9,-0.15Z", "size": 900, "filled": true, "color": "#ff0000", "opacity": 1},
     "encoding": {"y": {"field": "v", "type": "quantitative", "title": null, "scale": {"domain": [24650, 32045], "nice": false, "zero": false}}}},
    {"data": {"values": [{"i": -7.95, "v": 31787, "t": "WYCKOFF WAVE [Open: 31,330.67 \u00a0High: 31,428.01 \u00a0Low: 31,227.10 \u00a0Close: 31,341.34] (-0.1%)"}]},
     "mark": {"type": "text", "align": "left", "baseline": "middle", "fontSize": 27.6, "font": "Liberation Sans", "color": "#000000"},
     "encoding": {"y": {"field": "v", "type": "quantitative", "title": null, "scale": {"domain": [24650, 32045], "nice": false, "zero": false}}, "text": {"field": "t"}}}
  ]
},
{
  "bounds": "flush",
  "spacing": 8,
  "vconcat": [
    {
      "width": 1954, "height": 204,
      "encoding": {"x": {"field": "i", "type": "quantitative", "title": null, "scale": {"domain": [-9.2, 152.7], "nice": false, "zero": false},
        "axis": {"values": [0, 23, 44, 65, 86, 106.5, 127, 147], "grid": true, "labels": false, "ticks": false, "title": null}}},
      "layer": [
        {"data": {"name": "ohlc"},
         "mark": {"type": "bar", "size": 5, "color": "#0000dc"},
         "encoding": {"y": {"field": "v", "type": "quantitative", "title": null, "scale": {"domain": [-21000000, 1588000000], "nice": false, "zero": false},
           "axis": {"orient": "right", "values": [500000000, 1000000000], "format": ",d", "grid": true, "title": null, "labelPadding": 6}}}},
        {"data": {"name": "vRed"},
         "mark": {"type": "line", "color": "#ff0000", "strokeWidth": 3.5, "clip": true},
         "encoding": {"y": {"field": "v", "type": "quantitative", "title": null, "scale": {"domain": [-21000000, 1588000000], "nice": false, "zero": false}}, "detail": {"field": "s"}}},
        {"data": {"name": "vLetters"},
         "mark": {"type": "text", "color": "#000066", "fontSize": 28, "fontWeight": "bold", "font": "Liberation Sans", "baseline": "middle", "align": "center"},
         "encoding": {"y": {"field": "v", "type": "quantitative", "title": null, "scale": {"domain": [-21000000, 1588000000], "nice": false, "zero": false}}, "text": {"field": "t"}}},
        {"data": {"values": [{"i": -7.95, "v": 1399000000, "t": "Volume - Volume [278,822,327]"}]},
         "mark": {"type": "text", "align": "left", "baseline": "middle", "fontSize": 27.3, "font": "Liberation Sans", "color": "#000000"},
         "encoding": {"y": {"field": "v", "type": "quantitative", "title": null, "scale": {"domain": [-21000000, 1588000000], "nice": false, "zero": false}}, "text": {"field": "t"}}}
      ]
    },
    {
      "width": 1954, "height": 202,
      "encoding": {"x": {"field": "i", "type": "quantitative", "title": null, "scale": {"domain": [-9.2, 152.7], "nice": false, "zero": false},
        "axis": {"values": [0, 23, 44, 65, 86, 106.5, 127, 147], "grid": true, "labels": false, "ticks": false, "title": null}}},
      "layer": [
        {"data": {"name": "op"},
         "mark": {"type": "line", "color": "#0000cd", "strokeWidth": 3.5, "clip": true},
         "encoding": {"y": {"field": "v", "type": "quantitative", "title": null, "scale": {"domain": [60620, 63850], "nice": false, "zero": false},
           "axis": {"orient": "right", "values": [61000, 62000, 63000], "format": ",d", "grid": true, "title": null, "labelPadding": 6}}}},
        {"data": {"name": "opLines"},
         "mark": {"type": "line", "color": "#003300", "strokeWidth": 3, "clip": true},
         "encoding": {"y": {"field": "v", "type": "quantitative", "title": null, "scale": {"domain": [60620, 63850], "nice": false, "zero": false}}, "detail": {"field": "s"}}},
        {"data": {"name": "opLetters"},
         "mark": {"type": "text", "color": "#000066", "fontSize": 28, "fontWeight": "bold", "font": "Liberation Sans", "baseline": "middle", "align": "center"},
         "encoding": {"y": {"field": "v", "type": "quantitative", "title": null, "scale": {"domain": [60620, 63850], "nice": false, "zero": false}}, "text": {"field": "t"}}},
        {"data": {"values": [{"i": -7.95, "v": 63488, "t": "OP - OP [63,137]"}]},
         "mark": {"type": "text", "align": "left", "baseline": "middle", "fontSize": 27.3, "font": "Liberation Sans", "color": "#000000"},
         "encoding": {"y": {"field": "v", "type": "quantitative", "title": null, "scale": {"domain": [60620, 63850], "nice": false, "zero": false}}, "text": {"field": "t"}}}
      ]
    },
    {
      "width": 1954, "height": 204,
      "encoding": {"x": {"field": "i", "type": "quantitative", "title": null, "scale": {"domain": [-9.2, 152.7], "nice": false, "zero": false},
        "axis": {"values": [0, 23, 44, 65, 86, 106.5, 127, 147], "grid": true, "labels": false, "ticks": false, "title": null}}},
      "layer": [
        {"data": {"name": "tec"},
         "mark": {"type": "line", "color": "#0000cd", "strokeWidth": 3.5, "clip": true},
         "encoding": {"y": {"field": "v", "type": "quantitative", "title": null, "scale": {"domain": [32.6, 62.0], "nice": false, "zero": false},
           "axis": {"orient": "right", "values": [35, 40, 45, 50, 55], "format": "d", "grid": true, "title": null, "labelPadding": 6}}}},
        {"data": {"name": "tecLetters"},
         "mark": {"type": "text", "color": "#000066", "fontSize": 28, "fontWeight": "bold", "font": "Liberation Sans", "baseline": "middle", "align": "center"},
         "encoding": {"y": {"field": "v", "type": "quantitative", "title": null, "scale": {"domain": [32.6, 62.0], "nice": false, "zero": false}}, "text": {"field": "t"}}},
        {"data": {"name": "tecArrows"},
         "mark": {"type": "point", "shape": "M0,1L0.9,0.1L0.35,0.1L0.35,-1L-0.35,-1L-0.35,0.1L-0.9,0.1Z", "size": 520, "filled": true, "color": "#000066", "opacity": 1},
         "encoding": {"y": {"field": "v", "type": "quantitative", "title": null, "scale": {"domain": [32.6, 62.0], "nice": false, "zero": false}}}},
        {"data": {"values": [{"i": -7.95, "v": 58.7, "t": "TEC - Technometer [42.38]"}]},
         "mark": {"type": "text", "align": "left", "baseline": "middle", "fontSize": 27.3, "font": "Liberation Sans", "color": "#000000"},
         "encoding": {"y": {"field": "v", "type": "quantitative", "title": null, "scale": {"domain": [32.6, 62.0], "nice": false, "zero": false}}, "text": {"field": "t"}}}
      ]
    },
    {
      "width": 1954, "height": 206,
      "encoding": {"x": {"field": "i", "type": "quantitative", "title": null, "scale": {"domain": [-9.2, 152.7], "nice": false, "zero": false},
        "axis": {"values": [0, 23, 44, 65, 86, 106.5, 127, 147], "grid": true, "labels": false, "ticks": false, "title": null}}},
      "layer": [
        {"data": {"name": "force"},
         "mark": {"type": "line", "color": "#0000cd", "strokeWidth": 3.5, "clip": true},
         "encoding": {"y": {"field": "v", "type": "quantitative", "title": null, "scale": {"domain": [-1526, 484], "nice": false, "zero": false},
           "axis": {"orient": "right", "values": [-1000, -500, 0], "format": ",d", "labelExpr": "replace(datum.label, '\u2212', '-')", "grid": true, "title": null, "labelPadding": 6}}}},
        {"data": {"name": "fGreen"},
         "mark": {"type": "line", "color": "#003300", "strokeWidth": 3, "clip": true},
         "encoding": {"y": {"field": "v", "type": "quantitative", "title": null, "scale": {"domain": [-1526, 484], "nice": false, "zero": false}}, "detail": {"field": "s"}}},
        {"data": {"name": "fRed"},
         "mark": {"type": "line", "color": "#ff0000", "strokeWidth": 3, "clip": true},
         "encoding": {"y": {"field": "v", "type": "quantitative", "title": null, "scale": {"domain": [-1526, 484], "nice": false, "zero": false}}, "detail": {"field": "s"}}},
        {"data": {"name": "fDots"},
         "mark": {"type": "point", "filled": true, "size": 20, "opacity": 1, "color": "#003300"},
         "encoding": {"y": {"field": "v", "type": "quantitative", "title": null, "scale": {"domain": [-1526, 484], "nice": false, "zero": false}}}},
        {"data": {"name": "fLetters"},
         "mark": {"type": "text", "color": "#000066", "fontSize": 28, "fontWeight": "bold", "font": "Liberation Sans", "baseline": "middle", "align": "center"},
         "encoding": {"y": {"field": "v", "type": "quantitative", "title": null, "scale": {"domain": [-1526, 484], "nice": false, "zero": false}}, "text": {"field": "t"}}},
        {"data": {"values": [{"i": -7.95, "v": 257, "t": "FORCE - Force [-437.84]"}]},
         "mark": {"type": "text", "align": "left", "baseline": "middle", "fontSize": 27.3, "font": "Liberation Sans", "color": "#000000"},
         "encoding": {"y": {"field": "v", "type": "quantitative", "title": null, "scale": {"domain": [-1526, 484], "nice": false, "zero": false}}, "text": {"field": "t"}}}
      ]
    }
  ]
}
]
}
